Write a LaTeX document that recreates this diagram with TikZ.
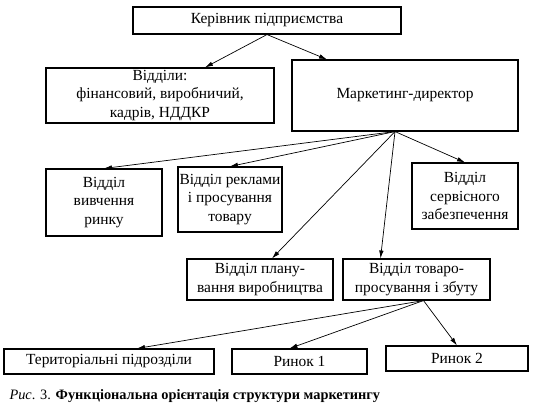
\documentclass[tikz,border=0pt]{standalone}
\usepackage{fontspec}
\setmainfont{Liberation Serif}
\usepackage{tikz}
\usetikzlibrary{arrows.meta, positioning, calc}

\begin{document}
\begin{tikzpicture}[
    x=1bp, y=-1bp,
    box/.style={
        rectangle,
        draw=black,
        line width=1.1pt,
        align=center,
        inner sep=0.5pt,
        font=\fontsize{15.5}{18.5}\selectfont
    },
    arrow/.style={-{Latex[length=2.8mm, width=1.6mm]}, line width=0.7pt}
]
\useasboundingbox (0,0) rectangle (538,410);

\node[box, minimum width=268bp, minimum height=27bp] (head) at (267,20.5) {Керівник підприємства};
\node[box, minimum width=228bp, minimum height=55bp] (depts) at (160,95.5) {Відділи:\\фінансовий, виробничий,\\кадрів, НДДКР};
\node[box, minimum width=226bp, minimum height=71bp] (mkt) at (405,95.5) {Маркетинг-директор};

\node[box, minimum width=116bp, minimum height=67bp] (study) at (104,202.5) {Відділ\\вивчення\\ринку};
\node[box, minimum width=104bp, minimum height=65bp] (adv) at (230,199.5) {Відділ реклами\\і просування\\товару};
\node[box, minimum width=106bp, minimum height=66bp] (serv) at (465,196) {Відділ\\сервісного\\забезпечення};

\node[box, minimum width=146bp, minimum height=41bp] (plan) at (260,279.5) {Відділ плану-\\вання виробництва};
\node[box, minimum width=147bp, minimum height=41bp] (sales) at (416.5,279.5) {Відділ товаро-\\просування і збуту};

\node[box, minimum width=210bp, minimum height=25bp] (terr) at (109,361.5) {Територіальні підрозділи};
\node[box, minimum width=135bp, minimum height=25bp] (mrk1) at (299.5,361.5) {Ринок 1};
\node[box, minimum width=142bp, minimum height=25bp] (mrk2) at (457,358.5) {Ринок 2};

\coordinate (mktout) at ($(mkt.south)+(-10,0)$);
\coordinate (salesout) at ($(sales.south)+(7,0)$);

\draw[arrow] (head.south) -- ($(depts.north)+(45,0)$);
\draw[arrow] (head.south) -- ($(mkt.north)+(-78,0)$);

\draw[arrow] (mktout) -- (study.north);
\draw[arrow] (mktout) -- (adv.north);
\draw[arrow] (mktout) -- ($(plan.north)+(12,0)$);
\draw[arrow] (mktout) -- ($(sales.north)+(-36,0)$);
\draw[arrow] (mktout) -- (serv.north);

\draw[arrow] (salesout) -- ($(terr.north)+(28,0)$);
\draw[arrow] (salesout) -- ($(mrk1.north)+(-10,0)$);
\draw[arrow] (salesout) -- (mrk2.north);

\node[anchor=west, font=\fontsize{14.4}{16}\selectfont] (caption) at (6,396)
{\textit{Рис}. 3. \textbf{Функціональна орієнтація структури маркетингу}};

\end{tikzpicture}
\end{document}
